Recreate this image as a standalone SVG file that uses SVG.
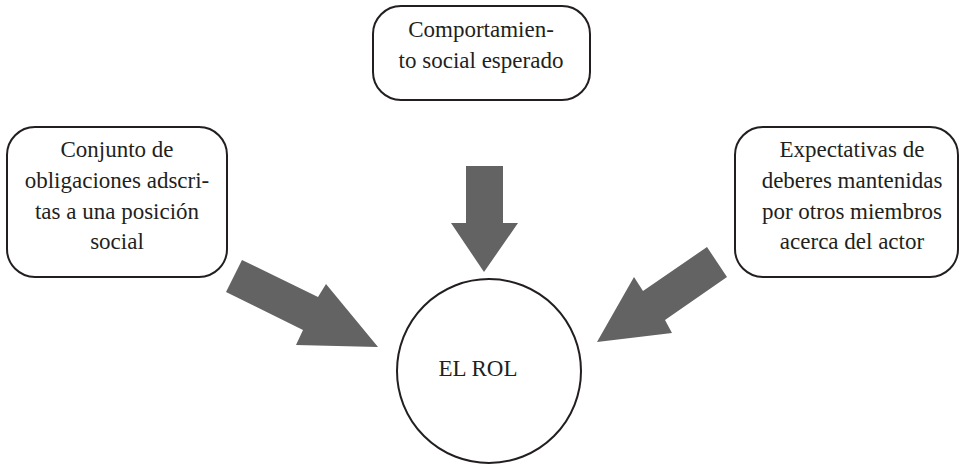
<svg xmlns="http://www.w3.org/2000/svg" width="962" height="464" viewBox="0 0 962 464">
<style>
.box{fill:#fff;stroke:#231f20;stroke-width:2}
text{font-family:'Liberation Serif',serif;font-size:23px;fill:#231f20;text-anchor:middle}
.arr{fill:#636363;stroke:none}
</style>
<rect width="962" height="464" fill="#fff"/>
<g id="top" font-family="Liberation Serif, serif">
<rect class="box" x="373" y="6" width="217" height="94" rx="28"/>
<text x="481" y="37">Comportamien-</text>
<text x="481" y="68">to social esperado</text>
</g>
<g id="left" font-family="Liberation Serif, serif">
<rect class="box" x="7" y="127" width="220" height="150" rx="28"/>
<text x="117" y="157">Conjunto de</text>
<text x="117" y="188">obligaciones adscri-</text>
<text x="117" y="219">tas a una posición</text>
<text x="117" y="249">social</text>
</g>
<g id="right" font-family="Liberation Serif, serif">
<rect class="box" x="735" y="127" width="223" height="150" rx="28"/>
<text x="852" y="157">Expectativas de</text>
<text x="852" y="188">deberes mantenidas</text>
<text x="852" y="219">por otros miembros</text>
<text x="852" y="249">acerca del actor</text>
</g>
<g id="rol" font-family="Liberation Serif, serif">
<circle class="box" cx="489" cy="371" r="92"/>
<text x="478" y="376">EL ROL</text>
</g>
<g id="connectors">
<polygon class="arr" points="466,166 503,166 503,223 518,223 484,272 451,223 466,223"/>
<polygon class="arr" points="242,260 318,297 326,284 378,347 296,345 303,330 226,292"/>
<polygon class="arr" points="707,247 727,277 665,320 672,333 597,342 634,277 643,291"/>
</g>
</svg>
